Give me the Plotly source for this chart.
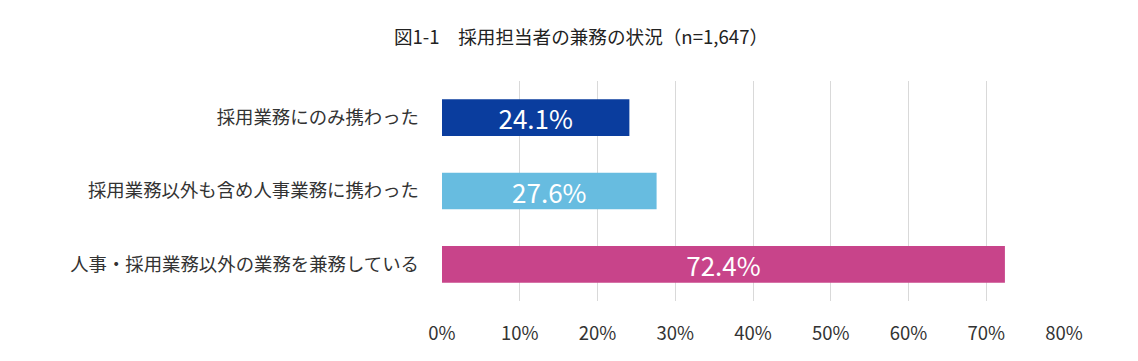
import plotly.graph_objects as go

categories = ["採用業務にのみ携わった", "採用業務以外も含め人事業務に携わった", "人事・採用業務以外の業務を兼務している"]
values = [24.1, 27.6, 72.4]
colors = ["#0A3D9E", "#67BCE0", "#C8448A"]
tick_vals = [0, 10, 20, 30, 40, 50, 60, 70, 80]
tick_text = ["0%", "10%", "20%", "30%", "40%", "50%", "60%", "70%", "80%"]
title = "図1-1　採用担当者の兼務の状況（n=1,647）"

FONT = "Noto Sans CJK JP"
W, H = 1130, 353  # page body has an 8px margin

fig = go.Figure(go.Bar(
    y=categories, x=values, orientation="h",
    marker=dict(color=colors, line=dict(width=0)),
    text=[f"{v:.1f}%" for v in values],
    textposition="inside", insidetextanchor="middle",
    constraintext="none",
    textfont=dict(color="white", size=26, family=FONT),
    cliponaxis=False,
))

fig.update_layout(
    width=W, height=H,
    margin=dict(l=434, r=74, t=73, b=60),
    paper_bgcolor="white", plot_bgcolor="white",
    bargap=0.5,
    showlegend=False,
    font=dict(family=FONT, color="#333333", size=18),
    title=dict(text=title, x=(581-8)/W, xref="container", xanchor="center",
               y=1-(37-8)/H, yref="container", yanchor="middle",
               font=dict(size=18.6, color="#222222", family=FONT)),
)
fig.update_xaxes(range=[0, 80], tickvals=tick_vals, ticktext=tick_text,
                 showgrid=True, gridcolor="#D9D9D9", gridwidth=1,
                 zeroline=False, showline=False, ticks="",
                 tickfont=dict(size=18.5, color="#333333"), ticklabelstandoff=19)
fig.update_yaxes(autorange="reversed", showgrid=False, showline=False, ticks="",
                 tickfont=dict(size=18.4, color="#333333"), ticklabelstandoff=22)

fig.write_html("out.html")
